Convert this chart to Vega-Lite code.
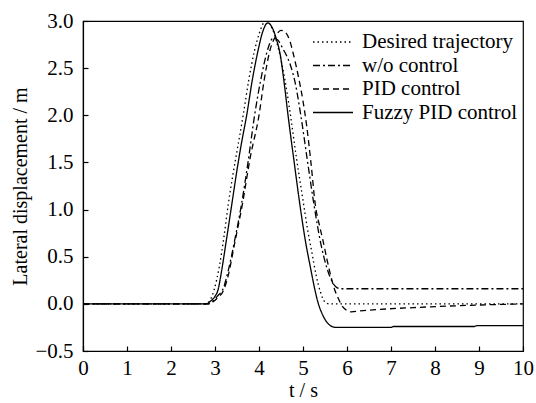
{
  "$schema": "https://vega.github.io/schema/vega-lite/v6.json",
  "width": 440,
  "height": 330,
  "autosize": {"type": "none"},
  "padding": {"left": 83, "top": 21, "right": 13, "bottom": 52},
  "background": "white",
  "config": {
    "view": {"stroke": "black", "strokeWidth": 1.2},
    "font": "Liberation Serif",
    "axis": {
      "grid": false,
      "domainColor": "black",
      "domainWidth": 1.2,
      "tickColor": "black",
      "tickSize": -5,
      "tickWidth": 1.2,
      "labelFont": "Liberation Serif",
      "labelFontSize": 21,
      "labelColor": "black",
      "labelFlush": false,
      "titleFont": "Liberation Serif",
      "titleFontSize": 20,
      "titleFontWeight": "normal",
      "titleColor": "black"
    },
    "legend": {
      "labelFont": "Liberation Serif",
      "labelFontSize": 21,
      "labelColor": "black"
    }
  },
  "data": {
    "values": [
      {"t": 0, "y": 0, "s": "Desired trajectory"},
      {"t": 2.8, "y": 0, "s": "Desired trajectory"},
      {"t": 2.9, "y": 0.05, "s": "Desired trajectory"},
      {"t": 2.98, "y": 0.15, "s": "Desired trajectory"},
      {"t": 3.1, "y": 0.4, "s": "Desired trajectory"},
      {"t": 3.2, "y": 0.7, "s": "Desired trajectory"},
      {"t": 3.3, "y": 1.05, "s": "Desired trajectory"},
      {"t": 3.4, "y": 1.35, "s": "Desired trajectory"},
      {"t": 3.5, "y": 1.62, "s": "Desired trajectory"},
      {"t": 3.64, "y": 2.0, "s": "Desired trajectory"},
      {"t": 3.77, "y": 2.38, "s": "Desired trajectory"},
      {"t": 3.9, "y": 2.69, "s": "Desired trajectory"},
      {"t": 4.0, "y": 2.86, "s": "Desired trajectory"},
      {"t": 4.08, "y": 2.96, "s": "Desired trajectory"},
      {"t": 4.15, "y": 3.0, "s": "Desired trajectory"},
      {"t": 4.22, "y": 2.98, "s": "Desired trajectory"},
      {"t": 4.3, "y": 2.92, "s": "Desired trajectory"},
      {"t": 4.45, "y": 2.69, "s": "Desired trajectory"},
      {"t": 4.58, "y": 2.4, "s": "Desired trajectory"},
      {"t": 4.7, "y": 2.05, "s": "Desired trajectory"},
      {"t": 4.85, "y": 1.55, "s": "Desired trajectory"},
      {"t": 5.0, "y": 1.1, "s": "Desired trajectory"},
      {"t": 5.1, "y": 0.8, "s": "Desired trajectory"},
      {"t": 5.2, "y": 0.55, "s": "Desired trajectory"},
      {"t": 5.3, "y": 0.3, "s": "Desired trajectory"},
      {"t": 5.4, "y": 0.12, "s": "Desired trajectory"},
      {"t": 5.5, "y": 0.02, "s": "Desired trajectory"},
      {"t": 5.6, "y": 0, "s": "Desired trajectory"},
      {"t": 10, "y": 0, "s": "Desired trajectory"},

      {"t": 0, "y": 0, "s": "w/o control"},
      {"t": 2.85, "y": 0, "s": "w/o control"},
      {"t": 2.95, "y": 0.03, "s": "w/o control"},
      {"t": 3.05, "y": 0.08, "s": "w/o control"},
      {"t": 3.2, "y": 0.18, "s": "w/o control"},
      {"t": 3.3, "y": 0.35, "s": "w/o control"},
      {"t": 3.45, "y": 0.68, "s": "w/o control"},
      {"t": 3.6, "y": 1.05, "s": "w/o control"},
      {"t": 3.75, "y": 1.5, "s": "w/o control"},
      {"t": 3.9, "y": 2.0, "s": "w/o control"},
      {"t": 4.05, "y": 2.4, "s": "w/o control"},
      {"t": 4.18, "y": 2.67, "s": "w/o control"},
      {"t": 4.25, "y": 2.77, "s": "w/o control"},
      {"t": 4.32, "y": 2.82, "s": "w/o control"},
      {"t": 4.42, "y": 2.8, "s": "w/o control"},
      {"t": 4.55, "y": 2.7, "s": "w/o control"},
      {"t": 4.7, "y": 2.55, "s": "w/o control"},
      {"t": 4.82, "y": 2.35, "s": "w/o control"},
      {"t": 4.95, "y": 2.0, "s": "w/o control"},
      {"t": 5.1, "y": 1.52, "s": "w/o control"},
      {"t": 5.25, "y": 1.05, "s": "w/o control"},
      {"t": 5.4, "y": 0.65, "s": "w/o control"},
      {"t": 5.55, "y": 0.37, "s": "w/o control"},
      {"t": 5.68, "y": 0.22, "s": "w/o control"},
      {"t": 5.78, "y": 0.17, "s": "w/o control"},
      {"t": 5.85, "y": 0.16, "s": "w/o control"},
      {"t": 10, "y": 0.16, "s": "w/o control"},

      {"t": 0, "y": 0, "s": "PID control"},
      {"t": 2.85, "y": 0, "s": "PID control"},
      {"t": 2.95, "y": 0.02, "s": "PID control"},
      {"t": 3.05, "y": 0.06, "s": "PID control"},
      {"t": 3.2, "y": 0.15, "s": "PID control"},
      {"t": 3.3, "y": 0.3, "s": "PID control"},
      {"t": 3.45, "y": 0.65, "s": "PID control"},
      {"t": 3.62, "y": 1.05, "s": "PID control"},
      {"t": 3.8, "y": 1.55, "s": "PID control"},
      {"t": 4.0, "y": 2.0, "s": "PID control"},
      {"t": 4.12, "y": 2.38, "s": "PID control"},
      {"t": 4.25, "y": 2.69, "s": "PID control"},
      {"t": 4.38, "y": 2.84, "s": "PID control"},
      {"t": 4.5, "y": 2.9, "s": "PID control"},
      {"t": 4.6, "y": 2.88, "s": "PID control"},
      {"t": 4.7, "y": 2.79, "s": "PID control"},
      {"t": 4.78, "y": 2.65, "s": "PID control"},
      {"t": 4.9, "y": 2.4, "s": "PID control"},
      {"t": 5.0, "y": 2.15, "s": "PID control"},
      {"t": 5.08, "y": 1.9, "s": "PID control"},
      {"t": 5.18, "y": 1.5, "s": "PID control"},
      {"t": 5.28, "y": 1.05, "s": "PID control"},
      {"t": 5.38, "y": 0.82, "s": "PID control"},
      {"t": 5.45, "y": 0.68, "s": "PID control"},
      {"t": 5.55, "y": 0.46, "s": "PID control"},
      {"t": 5.63, "y": 0.3, "s": "PID control"},
      {"t": 5.72, "y": 0.15, "s": "PID control"},
      {"t": 5.8, "y": 0.06, "s": "PID control"},
      {"t": 5.9, "y": -0.03, "s": "PID control"},
      {"t": 6.0, "y": -0.07, "s": "PID control"},
      {"t": 6.1, "y": -0.085, "s": "PID control"},
      {"t": 6.3, "y": -0.075, "s": "PID control"},
      {"t": 6.7, "y": -0.06, "s": "PID control"},
      {"t": 7.5, "y": -0.04, "s": "PID control"},
      {"t": 8.5, "y": -0.02, "s": "PID control"},
      {"t": 10, "y": 0, "s": "PID control"},

      {"t": 0, "y": 0, "s": "Fuzzy PID control"},
      {"t": 2.8, "y": 0, "s": "Fuzzy PID control"},
      {"t": 2.9, "y": 0.03, "s": "Fuzzy PID control"},
      {"t": 3.0, "y": 0.08, "s": "Fuzzy PID control"},
      {"t": 3.07, "y": 0.15, "s": "Fuzzy PID control"},
      {"t": 3.15, "y": 0.35, "s": "Fuzzy PID control"},
      {"t": 3.25, "y": 0.65, "s": "Fuzzy PID control"},
      {"t": 3.38, "y": 1.05, "s": "Fuzzy PID control"},
      {"t": 3.5, "y": 1.42, "s": "Fuzzy PID control"},
      {"t": 3.6, "y": 1.7, "s": "Fuzzy PID control"},
      {"t": 3.72, "y": 2.0, "s": "Fuzzy PID control"},
      {"t": 3.85, "y": 2.38, "s": "Fuzzy PID control"},
      {"t": 3.98, "y": 2.69, "s": "Fuzzy PID control"},
      {"t": 4.08, "y": 2.88, "s": "Fuzzy PID control"},
      {"t": 4.2, "y": 2.98, "s": "Fuzzy PID control"},
      {"t": 4.3, "y": 2.93, "s": "Fuzzy PID control"},
      {"t": 4.4, "y": 2.8, "s": "Fuzzy PID control"},
      {"t": 4.48, "y": 2.65, "s": "Fuzzy PID control"},
      {"t": 4.57, "y": 2.35, "s": "Fuzzy PID control"},
      {"t": 4.66, "y": 2.0, "s": "Fuzzy PID control"},
      {"t": 4.8, "y": 1.5, "s": "Fuzzy PID control"},
      {"t": 4.93, "y": 1.05, "s": "Fuzzy PID control"},
      {"t": 5.05, "y": 0.68, "s": "Fuzzy PID control"},
      {"t": 5.18, "y": 0.36, "s": "Fuzzy PID control"},
      {"t": 5.27, "y": 0.15, "s": "Fuzzy PID control"},
      {"t": 5.35, "y": 0.0, "s": "Fuzzy PID control"},
      {"t": 5.43, "y": -0.1, "s": "Fuzzy PID control"},
      {"t": 5.52, "y": -0.18, "s": "Fuzzy PID control"},
      {"t": 5.62, "y": -0.23, "s": "Fuzzy PID control"},
      {"t": 5.75, "y": -0.25, "s": "Fuzzy PID control"},
      {"t": 7.0, "y": -0.25, "s": "Fuzzy PID control"},
      {"t": 7.05, "y": -0.24, "s": "Fuzzy PID control"},
      {"t": 8.9, "y": -0.24, "s": "Fuzzy PID control"},
      {"t": 8.95, "y": -0.23, "s": "Fuzzy PID control"},
      {"t": 10, "y": -0.23, "s": "Fuzzy PID control"}
    ]
  },
  "mark": {"type": "line", "color": "black", "strokeWidth": 1.3, "interpolate": "monotone", "clip": true},
  "encoding": {
    "x": {
      "field": "t",
      "type": "quantitative",
      "scale": {"domain": [0, 10], "nice": false, "zero": false},
      "axis": {
        "values": [0, 1, 2, 3, 4, 5, 6, 7, 8, 9, 10],
        "format": "d",
        "title": "t / s",
        "labelPadding": 11,
        "titlePadding": 2
      }
    },
    "y": {
      "field": "y",
      "type": "quantitative",
      "scale": {"domain": [-0.5, 3.0], "nice": false, "zero": false},
      "axis": {
        "values": [-0.5, 0, 0.5, 1.0, 1.5, 2.0, 2.5, 3.0],
        "format": ".1f",
        "title": "Lateral displacement / m",
        "labelPadding": 15,
        "titlePadding": 4
      }
    },
    "strokeDash": {
      "field": "s",
      "type": "nominal",
      "scale": {
        "domain": ["Desired trajectory", "w/o control", "PID control", "Fuzzy PID control"],
        "range": [[1.5, 3], [7, 3, 2, 3], [6, 4], [1, 0]]
      },
      "legend": {
        "title": null,
        "orient": "none",
        "legendX": 239,
        "legendY": 10,
        "symbolType": "M-2,0H2",
        "symbolSize": 400,
        "symbolStrokeWidth": 1.3,
        "symbolStrokeColor": "black",
        "labelOffset": 18,
        "rowPadding": 2.5
      }
    }
  }
}
